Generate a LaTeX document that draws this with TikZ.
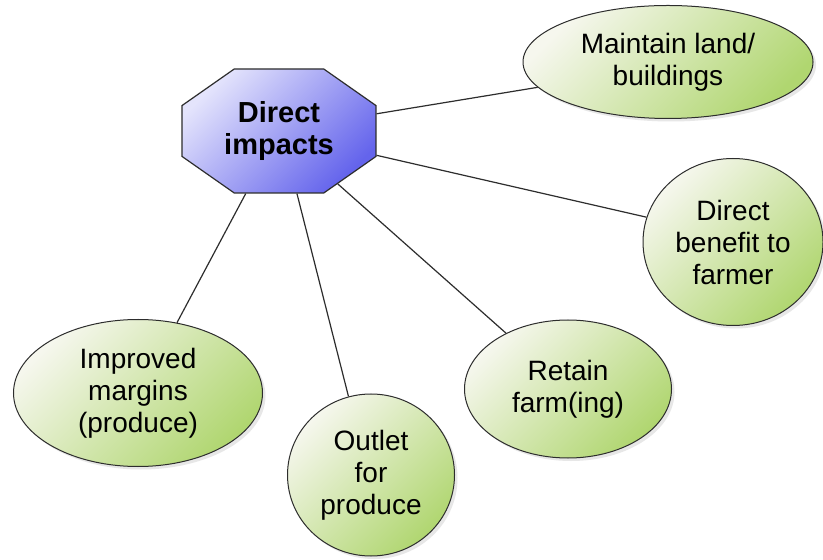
\documentclass[tikz,border=0pt]{standalone}
\usepackage{fontspec}
\setmainfont{Liberation Sans}
\usetikzlibrary{shapes.geometric}
\usetikzlibrary{shapes.misc}
\usetikzlibrary{shadows}

\definecolor{octlight}{RGB}{228,228,252}
\definecolor{octdark}{RGB}{100,100,236}
\definecolor{leaflight}{RGB}{246,247,238}
\definecolor{leafdark}{RGB}{176,214,112}
\definecolor{rimgray}{RGB}{45,45,45}

\begin{document}
\begin{tikzpicture}[x=0.5pt,y=-0.5pt,
    hub/.style={chamfered rectangle, chamfered rectangle angle=55,
        chamfered rectangle xsep=29pt, minimum width=90pt, minimum height=62pt,
        inner sep=0pt, draw=rimgray, line width=0.6pt,
        top color=octlight, bottom color=octdark, shading angle=45,
        align=center, font=\fontsize{14.5}{16}\selectfont\bfseries},
    leaf/.style={ellipse, draw=rimgray, line width=0.5pt,
        top color=leaflight, bottom color=leafdark, shading angle=45,
        drop shadow={fill=black!30, opacity=0.3, shadow xshift=1.5pt, shadow yshift=-1.5pt},
        inner sep=0pt, align=center, font=\fontsize{14}{16}\selectfont},
    link/.style={draw=rimgray, line width=0.6pt}]
    \useasboundingbox[fill=white] (0,0) rectangle (823,560);
    % Centre
    \node[hub] (impacts) at (279,131) {Direct\\impacts};
    % Outer ellipses
    \node[leaf, minimum width=145pt, minimum height=56.5pt] (land) at (668,62) {Maintain land/\\buildings};
    \node[leaf, minimum width=90pt, minimum height=83.5pt] (benefit) at (733,242) {Direct\\benefit to\\farmer};
    \node[leaf, minimum width=103.5pt, minimum height=69pt] (retain) at (568,389) {Retain\\farm(ing)};
    \node[leaf, minimum width=83.5pt, minimum height=81pt] (outlet) at (371,475) {Outlet\\for\\produce};
    \node[leaf, minimum width=124.5pt, minimum height=73.5pt] (margins) at (138,393) {Improved\\margins\\(produce)};
    % Links
    \draw[link] (impacts.10) -- (land.191);
    \draw[link] (impacts.-14) -- (benefit.164);
    \draw[link] (impacts.-42) -- (retain.138);
    \draw[link] (impacts.-74) -- (outlet.106);
    \draw[link] (impacts.-118) -- (margins.61);
\end{tikzpicture}
\end{document}
